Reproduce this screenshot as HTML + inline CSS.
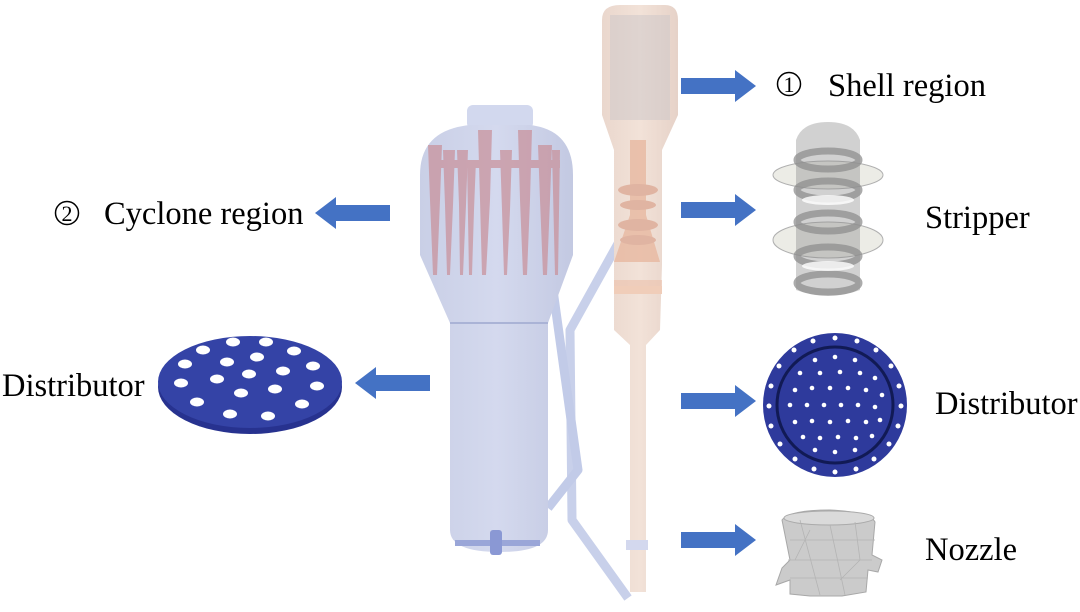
<!DOCTYPE html>
<html><head><meta charset="utf-8"><style>
html,body{margin:0;padding:0;background:#fff;}
svg{display:block;}
text{font-family:"Liberation Serif",serif;fill:#000;}
</style></head><body>
<svg width="1080" height="612" viewBox="0 0 1080 612" xmlns="http://www.w3.org/2000/svg">
<defs>
<linearGradient id="bl" x1="0" x2="1"><stop offset="0" stop-color="#c9cfe6"/><stop offset="0.5" stop-color="#d4d9ee"/><stop offset="1" stop-color="#c3c9e2"/></linearGradient>
<linearGradient id="or" x1="0" x2="1"><stop offset="0" stop-color="#ead7cd"/><stop offset="0.5" stop-color="#f2e2d8"/><stop offset="1" stop-color="#e6d2c8"/></linearGradient>
</defs>

<path d="M620 240 L570 330 L572 520 L628 598" fill="none" stroke="#c8d0ea" stroke-width="9" stroke-linejoin="round"/>
<path d="M553 290 L578 470 L548 508" fill="none" stroke="#c2cbe8" stroke-width="9" stroke-linejoin="round"/>
<rect x="495" y="503" width="45" height="12" rx="5" fill="#e2b9ae"/>

<rect x="467" y="105" width="66" height="24" rx="6" fill="#d2d8ee"/>
<path d="M420 175 Q420 130 470 125 L530 125 Q573 130 573 175 L573 255 L548 323 L548 530 Q548 552 500 552 Q450 552 450 530 L450 323 L420 255 Z" fill="url(#bl)"/>
<line x1="450" y1="323" x2="548" y2="323" stroke="#aab3d6" stroke-width="2"/>
<g fill="#c98f98" opacity="0.7">
<path d="M428 145 L442 145 L440 200 L437 275 L433 275 L430 200 Z"/>
<path d="M443 150 L455 150 L453 205 L450 275 L447 275 L445 205 Z"/>
<path d="M457 150 L468 150 L466 205 L463 275 L460 275 L459 205 Z"/>
<path d="M467 160 L476 160 L474 210 L472 275 L469 275 Z"/>
<path d="M478 130 L492 130 L490 200 L486 275 L482 275 L480 200 Z"/>
<path d="M500 150 L512 150 L510 210 L507 275 L504 275 L502 210 Z"/>
<path d="M518 130 L532 130 L530 200 L527 275 L523 275 L520 200 Z"/>
<path d="M538 145 L552 145 L550 200 L547 275 L543 275 L540 200 Z"/>
<path d="M552 150 L560 150 L558 275 L555 275 Z"/>
<rect x="430" y="160" width="130" height="8"/>
</g>
<rect x="455" y="540" width="85" height="6" fill="#9aa6d8"/>
<rect x="490" y="530" width="12" height="25" rx="3" fill="#8a98d4"/>

<path d="M602 20 Q602 5 620 5 L665 5 Q678 5 678 20 L678 115 L662 150 L662 265 L660 330 L646 345 L646 592 L630 592 L630 345 L614 330 L614 265 L614 150 L602 115 Z" fill="url(#or)"/>
<rect x="610" y="15" width="60" height="105" fill="#ccc6c8" opacity="0.5"/>
<path d="M630 140 L646 140 L646 215 L660 262 L614 262 L630 215 Z" fill="#e7b8a0" opacity="0.8"/>
<ellipse cx="638" cy="190" rx="20" ry="6" fill="#e0b4a2"/>
<ellipse cx="638" cy="205" rx="18" ry="5" fill="#e0b4a2"/>
<ellipse cx="638" cy="225" rx="20" ry="6" fill="#e0b4a2"/>
<ellipse cx="638" cy="240" rx="18" ry="5" fill="#e0b4a2"/>
<rect x="614" y="280" width="48" height="10" fill="#ecc4b0" opacity="0.7"/>
<rect x="614" y="286" width="48" height="8" fill="#f0cdb9"/>
<rect x="626" y="540" width="22" height="10" fill="#d3d8ee"/>

<g fill="#4472C4">
<polygon points="681,78 735,78 735,70 756,86 735,102 735,94 681,94"/>
<polygon points="681,202 735,202 735,194 756,210 735,226 735,218 681,218"/>
<polygon points="681,393 735,393 735,385 756,401 735,417 735,409 681,409"/>
<polygon points="681,532 735,532 735,524 756,540 735,556 735,548 681,548"/>
<polygon points="390,205 336,205 336,197 315,213 336,229 336,221 390,221"/>
<polygon points="430,375 376,375 376,367 355,383 376,399 376,391 430,391"/>
</g>

<ellipse cx="250" cy="387" rx="92" ry="47" fill="#27328f"/>
<ellipse cx="250" cy="382" rx="92" ry="46" fill="#3443a6"/>
<g fill="#fff">
<ellipse cx="233" cy="342" rx="7" ry="4.5"/><ellipse cx="266" cy="342" rx="7" ry="4.5"/>
<ellipse cx="203" cy="350" rx="7" ry="4.5"/><ellipse cx="294" cy="351" rx="7" ry="4.5"/>
<ellipse cx="257" cy="357" rx="7" ry="4.5"/><ellipse cx="227" cy="362" rx="7" ry="4.5"/>
<ellipse cx="185" cy="364" rx="7" ry="4.5"/><ellipse cx="313" cy="366" rx="7" ry="4.5"/>
<ellipse cx="249" cy="374" rx="7" ry="4.5"/><ellipse cx="283" cy="371" rx="7" ry="4.5"/>
<ellipse cx="217" cy="379" rx="7" ry="4.5"/><ellipse cx="181" cy="383" rx="7" ry="4.5"/>
<ellipse cx="317" cy="386" rx="7" ry="4.5"/><ellipse cx="241" cy="393" rx="7" ry="4.5"/>
<ellipse cx="275" cy="389" rx="7" ry="4.5"/><ellipse cx="197" cy="402" rx="7" ry="4.5"/>
<ellipse cx="302" cy="404" rx="7" ry="4.5"/><ellipse cx="230" cy="414" rx="7" ry="4.5"/>
<ellipse cx="268" cy="416" rx="7" ry="4.5"/>
</g>

<ellipse cx="828" cy="175" rx="55" ry="14" fill="#ecece6" stroke="#b0b0b0"/>
<ellipse cx="828" cy="240" rx="55" ry="18" fill="#ecece6" stroke="#b0b0b0"/>
<path d="M796 140 Q802 122 828 122 Q854 122 860 140 L860 290 Q828 302 796 290 Z" fill="#8c8c8c" fill-opacity="0.4"/>
<g fill="none" stroke="#8f8f8f" stroke-width="7" opacity="0.75">
<ellipse cx="828" cy="160" rx="31" ry="9"/><ellipse cx="828" cy="190" rx="31" ry="9"/>
<ellipse cx="828" cy="222" rx="31" ry="9"/><ellipse cx="828" cy="256" rx="31" ry="9"/>
<ellipse cx="828" cy="283" rx="31" ry="9"/>
</g>
<ellipse cx="828" cy="200" rx="26" ry="5" fill="#fff" opacity="0.8"/>
<ellipse cx="828" cy="266" rx="26" ry="5" fill="#fff" opacity="0.8"/>

<circle cx="835" cy="405" r="72" fill="#2e3a9c"/>
<circle cx="835" cy="405" r="58" fill="none" stroke="#111a55" stroke-width="3"/>
<g fill="#fff">
<circle cx="835" cy="338" r="2.5"/><circle cx="857" cy="341" r="2.5"/><circle cx="876" cy="350" r="2.5"/><circle cx="891" cy="366" r="2.5"/><circle cx="899" cy="386" r="2.5"/><circle cx="901" cy="406" r="2.5"/><circle cx="898" cy="426" r="2.5"/><circle cx="889" cy="444" r="2.5"/><circle cx="874" cy="459" r="2.5"/><circle cx="856" cy="469" r="2.5"/><circle cx="835" cy="472" r="2.5"/><circle cx="814" cy="469" r="2.5"/><circle cx="795" cy="459" r="2.5"/><circle cx="780" cy="444" r="2.5"/><circle cx="771" cy="426" r="2.5"/><circle cx="769" cy="406" r="2.5"/><circle cx="771" cy="386" r="2.5"/><circle cx="779" cy="366" r="2.5"/><circle cx="794" cy="350" r="2.5"/><circle cx="813" cy="341" r="2.5"/>
<circle cx="815" cy="360" r="2.3"/><circle cx="835" cy="357" r="2.3"/><circle cx="855" cy="360" r="2.3"/>
<circle cx="800" cy="373" r="2.3"/><circle cx="820" cy="373" r="2.3"/><circle cx="840" cy="372" r="2.3"/><circle cx="860" cy="373" r="2.3"/><circle cx="875" cy="378" r="2.3"/>
<circle cx="795" cy="390" r="2.3"/><circle cx="812" cy="388" r="2.3"/><circle cx="830" cy="388" r="2.3"/><circle cx="848" cy="388" r="2.3"/><circle cx="866" cy="390" r="2.3"/><circle cx="882" cy="395" r="2.3"/>
<circle cx="790" cy="405" r="2.3"/><circle cx="807" cy="405" r="2.3"/><circle cx="824" cy="405" r="2.3"/><circle cx="841" cy="405" r="2.3"/><circle cx="858" cy="405" r="2.3"/><circle cx="875" cy="407" r="2.3"/>
<circle cx="795" cy="422" r="2.3"/><circle cx="812" cy="421" r="2.3"/><circle cx="830" cy="422" r="2.3"/><circle cx="848" cy="421" r="2.3"/><circle cx="866" cy="422" r="2.3"/><circle cx="880" cy="420" r="2.3"/>
<circle cx="803" cy="437" r="2.3"/><circle cx="820" cy="438" r="2.3"/><circle cx="838" cy="437" r="2.3"/><circle cx="856" cy="438" r="2.3"/><circle cx="872" cy="436" r="2.3"/>
<circle cx="815" cy="450" r="2.3"/><circle cx="835" cy="452" r="2.3"/><circle cx="855" cy="450" r="2.3"/>
</g>

<path d="M782 520 Q790 510 830 510 Q870 512 875 522 L872 555 L882 560 L878 572 L868 570 L866 592 L842 596 L810 596 L790 594 L790 580 L776 585 L782 568 L790 560 Z" fill="#cbcbcb" stroke="#a8a8a8" stroke-width="1"/>
<ellipse cx="829" cy="518" rx="45" ry="7" fill="#dadada" stroke="#aaa"/>
<g stroke="#b4b4b4" stroke-width="0.8" fill="none">
<path d="M790 540 L875 540 M788 560 L872 560 M790 578 L868 578 M800 520 L820 595 M830 525 L845 595 M855 522 L860 560 L840 580 M810 530 L795 560"/>
</g>

<circle cx="789" cy="84" r="11.5" fill="none" stroke="#000" stroke-width="1.5"/>
<text x="789" y="92" font-size="22" text-anchor="middle">1</text>
<text x="828" y="96" font-size="32.5">Shell region</text>
<circle cx="67" cy="213" r="11.5" fill="none" stroke="#000" stroke-width="1.5"/>
<text x="67" y="221" font-size="22" text-anchor="middle">2</text>
<text x="104" y="224" font-size="32.5">Cyclone region</text>
<text x="925" y="228" font-size="32.5">Stripper</text>
<text x="2" y="396" font-size="32.5">Distributor</text>
<text x="935" y="414" font-size="32.5">Distributor</text>
<text x="925" y="560" font-size="32.5">Nozzle</text>
</svg>
</body></html>
